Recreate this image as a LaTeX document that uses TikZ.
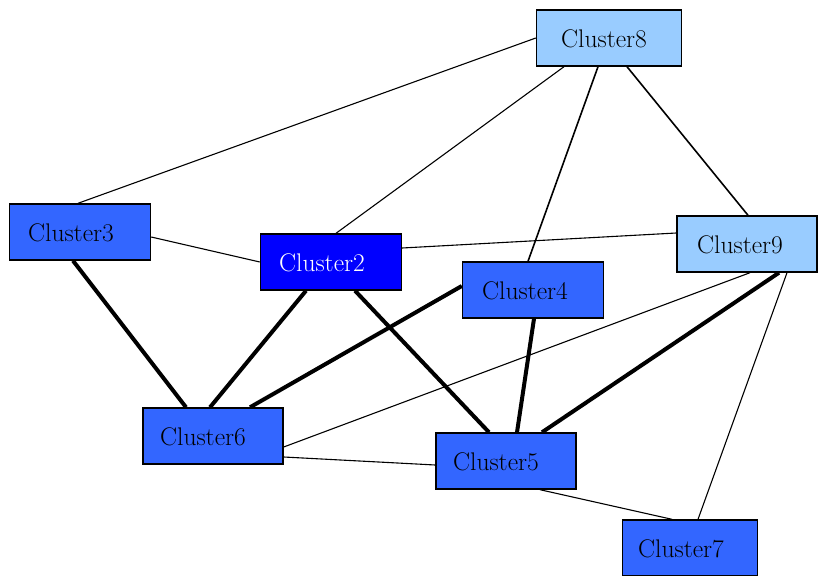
\documentclass[tikz,border=0pt]{standalone}
\usepackage{fontspec}
\pgfdeclarelayer{background}
\pgfsetlayers{background,main}
\begin{document}
\begin{tikzpicture}[x=1pt,y=-1pt,
  cbox/.style={draw=black, line width=1.4pt, rectangle, minimum width=141pt, minimum height=56pt, inner sep=0pt},
  lbl/.style={inner sep=0pt, font=\fontsize{25.5}{28}\selectfont},
  lightc/.style={cbox, fill=lightblu},
  midc/.style={cbox, fill=midblu},
  darkc/.style={cbox, fill=darkblu},
  thin/.style={line width=1.1pt},
  med/.style={line width=1.6pt},
  thick/.style={line width=4pt}]
\definecolor{lightblu}{HTML}{99CCFF}
\definecolor{midblu}{HTML}{3366FF}
\definecolor{darkblu}{HTML}{0000FF}
\begin{pgfonlayer}{background}
\fill[white] (0,0) rectangle (818,575);
\end{pgfonlayer}
\useasboundingbox (0,0) rectangle (818,575);

\node[lightc, minimum width=145pt] (n8) at (609,38) {};
\node[midc] (n3) at (80,232) {};
\node[darkc] (n2) at (331,262) {};
\node[midc] (n4) at (533,290) {};
\node[lightc, minimum width=140pt] (n9) at (747,244) {};
\node[midc, minimum width=140pt] (n6) at (213,436) {};
\node[midc, minimum width=140pt] (n5) at (506,461) {};
\node[midc, minimum width=135pt] (n7) at (690,548) {};

\node[lbl] (t8) at ([xshift=-5pt,yshift=-1pt]n8.center) {Cluster8};
\node[lbl] (t3) at ([xshift=-9pt,yshift=-1pt]n3.center) {Cluster3};
\node[lbl, text=white] (t2) at ([xshift=-9pt,yshift=-1pt]n2.center) {Cluster2};
\node[lbl] (t4) at ([xshift=-8pt,yshift=-1pt]n4.center) {Cluster4};
\node[lbl] (t9) at ([xshift=-7pt,yshift=-1pt]n9.center) {Cluster9};
\node[lbl] (t6) at ([xshift=-10pt,yshift=-1pt]n6.center) {Cluster6};
\node[lbl] (t5) at ([xshift=-10pt,yshift=-1pt]n5.center) {Cluster5};
\node[lbl] (t7) at ([xshift=-9pt,yshift=-1pt]n7.center) {Cluster7};

\begin{pgfonlayer}{background}
\draw[thin] (n8.west) -- ([xshift=-2pt]n3.north);
\draw[thin] ([xshift=-45pt]n8.south) -- ([xshift=5pt]n2.north);
\draw[med] ([xshift=-11pt]n8.south) -- ([xshift=-5pt]n4.north);
\draw[med] ([xshift=18pt]n8.south) -- ([xshift=1pt]n9.north);
\draw[thin] ([yshift=-5pt]n3.east) -- (n2.west);
\draw[thin] ([yshift=14pt]n2.east) -- ([yshift=11pt]n9.west);
\draw[thick] ([xshift=-7pt]n3.south) -- ([xshift=-27pt]n6.north);
\draw[thick] ([xshift=-25pt]n2.south) -- ([xshift=-3pt]n6.north);
\draw[thick] ([xshift=24pt]n2.south) -- ([xshift=-17pt]n5.north);
\draw[thick] ([yshift=4pt]n4.west) -- ([xshift=37pt]n6.north);
\draw[thick] ([xshift=1pt]n4.south) -- ([xshift=11pt]n5.north);
\draw[thick] ([xshift=32pt]n9.south) -- ([xshift=36pt]n5.north);
\draw[thin] ([xshift=3pt]n9.south) -- ([yshift=-11pt]n6.east);
\draw[thin] ([xshift=40pt]n9.south) -- ([xshift=8pt]n7.north);
\draw[thin] ([yshift=-21pt]n6.east) -- ([yshift=-4pt]n5.west);
\draw[thin] ([xshift=34pt]n5.south) -- ([xshift=-18pt]n7.north);
\end{pgfonlayer}
\end{tikzpicture}
\end{document}
